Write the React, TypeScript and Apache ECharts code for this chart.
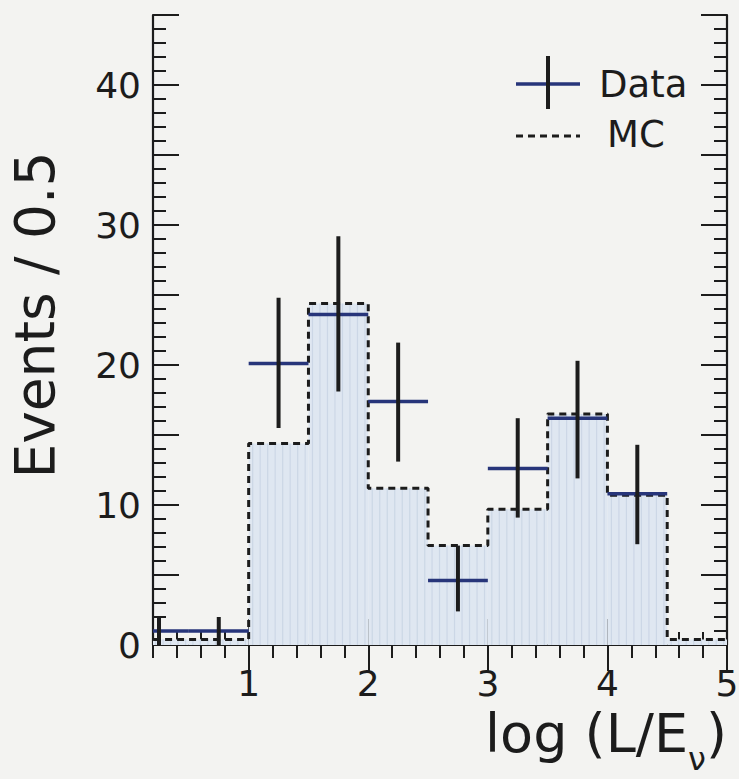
import React, { useEffect, useRef } from "react";
import * as echarts from "echarts";

const binLow = [0, 0.5, 1, 1.5, 2, 2.5, 3, 3.5, 4, 4.5];
const binWidth = 0.5;
const mcValues = [0.4, 0.4, 14.4, 24.4, 11.2, 7.1, 9.7, 16.5, 10.7, 0.4];

const dataCenters = [0.25, 0.75, 1.25, 1.75, 2.25, 2.75, 3.25, 3.75, 4.25];
const dataValues = [1, 1, 20.1, 23.6, 17.4, 4.6, 12.6, 16.2, 10.8];
const errLow = [0, 0, 15.5, 18.1, 13.1, 2.4, 9.1, 11.9, 7.2];
const errHigh = [2, 2, 24.8, 29.2, 21.6, 7.1, 16.2, 20.3, 14.3];

const xMajorTicks = [1, 2, 3, 4, 5];
const yLabelValues = [0, 10, 20, 30, 40];

const FONT = "DejaVu Sans";
const INK = "#1c1c1c";
const BLUE = "#27357a";

export default function App() {
  const ref = useRef<HTMLDivElement>(null);
  useEffect(() => {
    if (!ref.current) return;
    const chart = echarts.init(ref.current, null, { renderer: "svg" });

    const lineStyle = { color: INK, width: 2.2 };
    const minorX = (pos: string, show: boolean) => ({
      type: "value", min: 0.2, max: 5, interval: 0.2, position: pos,
      axisLine: { show, lineStyle },
      axisTick: { show: true, inside: true, length: 13, lineStyle: { color: INK, width: 2 } },
      axisLabel: { show: false }, splitLine: { show: false },
    });
    const majorX = (pos: string, labels: boolean) => ({
      type: "value", min: 0.2, max: 5, position: pos,
      axisLine: { show: false },
      axisTick: { show: true, inside: true, length: 26, customValues: xMajorTicks, lineStyle: { color: INK, width: 2 } },
      axisLabel: labels
        ? { show: true, customValues: xMajorTicks, fontSize: 36, fontFamily: FONT, color: INK, margin: 20 }
        : { show: false },
      splitLine: { show: false },
      ...(labels
        ? {
            name: "log (L/E{sub|ν})",
            nameLocation: "end",
            nameGap: 0,
            nameMoveOverlap: false,
            nameTextStyle: {
              fontSize: 54, fontFamily: FONT, color: INK, align: "right", verticalAlign: "top",
              lineHeight: 84,
              padding: [46, 0, 0, 0],
              rich: { sub: { fontSize: 32, fontFamily: FONT, color: INK, verticalAlign: "bottom" } },
            },
          }
        : {}),
    });
    const minorY = (pos: string) => ({
      type: "value", min: 0, max: 45, interval: 1, position: pos,
      axisLine: { show: true, lineStyle },
      axisTick: { show: true, inside: true, length: 13, lineStyle: { color: INK, width: 2 } },
      axisLabel: { show: false }, splitLine: { show: false },
    });
    const majorY = (pos: string, labels: boolean) => ({
      type: "value", min: 0, max: 45, interval: 5, position: pos,
      axisLine: { show: false },
      axisTick: { show: true, inside: true, length: 26, lineStyle: { color: INK, width: 2 } },
      axisLabel: labels
        ? {
            show: true, fontSize: 36, fontFamily: FONT, color: INK, margin: 12,
            formatter: (v: number) => (yLabelValues.indexOf(v) >= 0 ? String(v) : ""),
          }
        : { show: false },
      splitLine: { show: false },
      ...(labels
        ? {
            name: "Events / 0.5",
            nameLocation: "middle",
            nameGap: 92,
            nameMoveOverlap: false,
            nameTextStyle: { fontSize: 55, lineHeight: 52, fontFamily: FONT, color: INK, padding: [0, 0, 0, 30] },
          }
        : {}),
    });

    const mcStep: number[][] = binLow.map((x, i) => [x, mcValues[i]]);
    mcStep.push([binLow[binLow.length - 1] + binWidth, mcValues[mcValues.length - 1]]);

    const fillData = binLow.map((x, i) => [x, x + binWidth, mcValues[i]]);
    const crossData = dataCenters.map((c, i) => [c, dataValues[i], errLow[i], errHigh[i]]);

    chart.setOption({
      animation: false,
      backgroundColor: "#f3f3f1",
      grid: { left: 153, top: 15, right: 12, bottom: 134, containLabel: false, outerBoundsMode: "none" },
      xAxis: [minorX("bottom", true), majorX("bottom", true), minorX("top", true), majorX("top", false)],
      yAxis: [minorY("left"), majorY("left", true), minorY("right"), majorY("right", false)],
      series: [
        {
          type: "custom",
          name: "MC fill",
          xAxisIndex: 0, yAxisIndex: 0, z: 1, clip: true,
          data: fillData,
          renderItem: (params: any, api: any) => {
            const a = api.coord([api.value(0), 0]);
            const b = api.coord([api.value(1), api.value(2)]);
            const x0 = Math.min(a[0], b[0]);
            const w = Math.abs(b[0] - a[0]);
            const y0 = b[1];
            const h = a[1] - b[1];
            const children: any[] = [
              { type: "rect", shape: { x: x0, y: y0, width: w, height: h }, style: { fill: "#dfe7f1" } },
            ];
            for (let x = x0 + 4; x < x0 + w - 1; x += 7.5) {
              children.push({
                type: "line",
                shape: { x1: x, y1: y0, x2: x, y2: y0 + h },
                style: { stroke: "#ccd7e6", lineWidth: 1.2 },
              });
            }
            return { type: "group", children };
          },
        },
        {
          type: "line",
          name: "MC",
          xAxisIndex: 0, yAxisIndex: 0, z: 2,
          step: "end",
          symbol: "none",
          data: mcStep,
          lineStyle: { color: INK, width: 3, type: [7, 5] },
        },
        {
          type: "custom",
          name: "Data",
          xAxisIndex: 0, yAxisIndex: 0, z: 3, clip: true,
          data: crossData,
          renderItem: (params: any, api: any) => {
            const c = api.value(0);
            const v = api.value(1);
            const h1 = api.coord([c - binWidth / 2, v]);
            const h2 = api.coord([c + binWidth / 2, v]);
            const vl = api.coord([c, api.value(2)]);
            const vh = api.coord([c, api.value(3)]);
            return {
              type: "group",
              children: [
                { type: "line", shape: { x1: h1[0], y1: h1[1], x2: h2[0], y2: h2[1] }, style: { stroke: BLUE, lineWidth: 3.5 } },
                { type: "line", shape: { x1: vl[0], y1: vl[1], x2: vh[0], y2: vh[1] }, style: { stroke: INK, lineWidth: 4 } },
              ],
            };
          },
        },
      ],
      graphic: [
        { type: "line", shape: { x1: 516, y1: 84, x2: 580, y2: 84 }, style: { stroke: BLUE, lineWidth: 3.5 }, z: 10 },
        { type: "line", shape: { x1: 548, y1: 56, x2: 548, y2: 109 }, style: { stroke: INK, lineWidth: 4 }, z: 10 },
        { type: "text", x: 599, y: 84, style: { text: "Data", font: `37px '${FONT}'`, fill: INK, textVerticalAlign: "middle" }, z: 10 },
        { type: "line", shape: { x1: 516, y1: 136, x2: 580, y2: 136 }, style: { stroke: INK, lineWidth: 3, lineDash: [7, 5] }, z: 10 },
        { type: "text", x: 607, y: 134, style: { text: "MC", font: `37px '${FONT}'`, fill: INK, textVerticalAlign: "middle" }, z: 10 },
      ],
    });
    return () => chart.dispose();
  }, []);
  return <div ref={ref} style={{ position: "fixed", left: 0, top: 0, width: 739, height: 779 }} />;
}
